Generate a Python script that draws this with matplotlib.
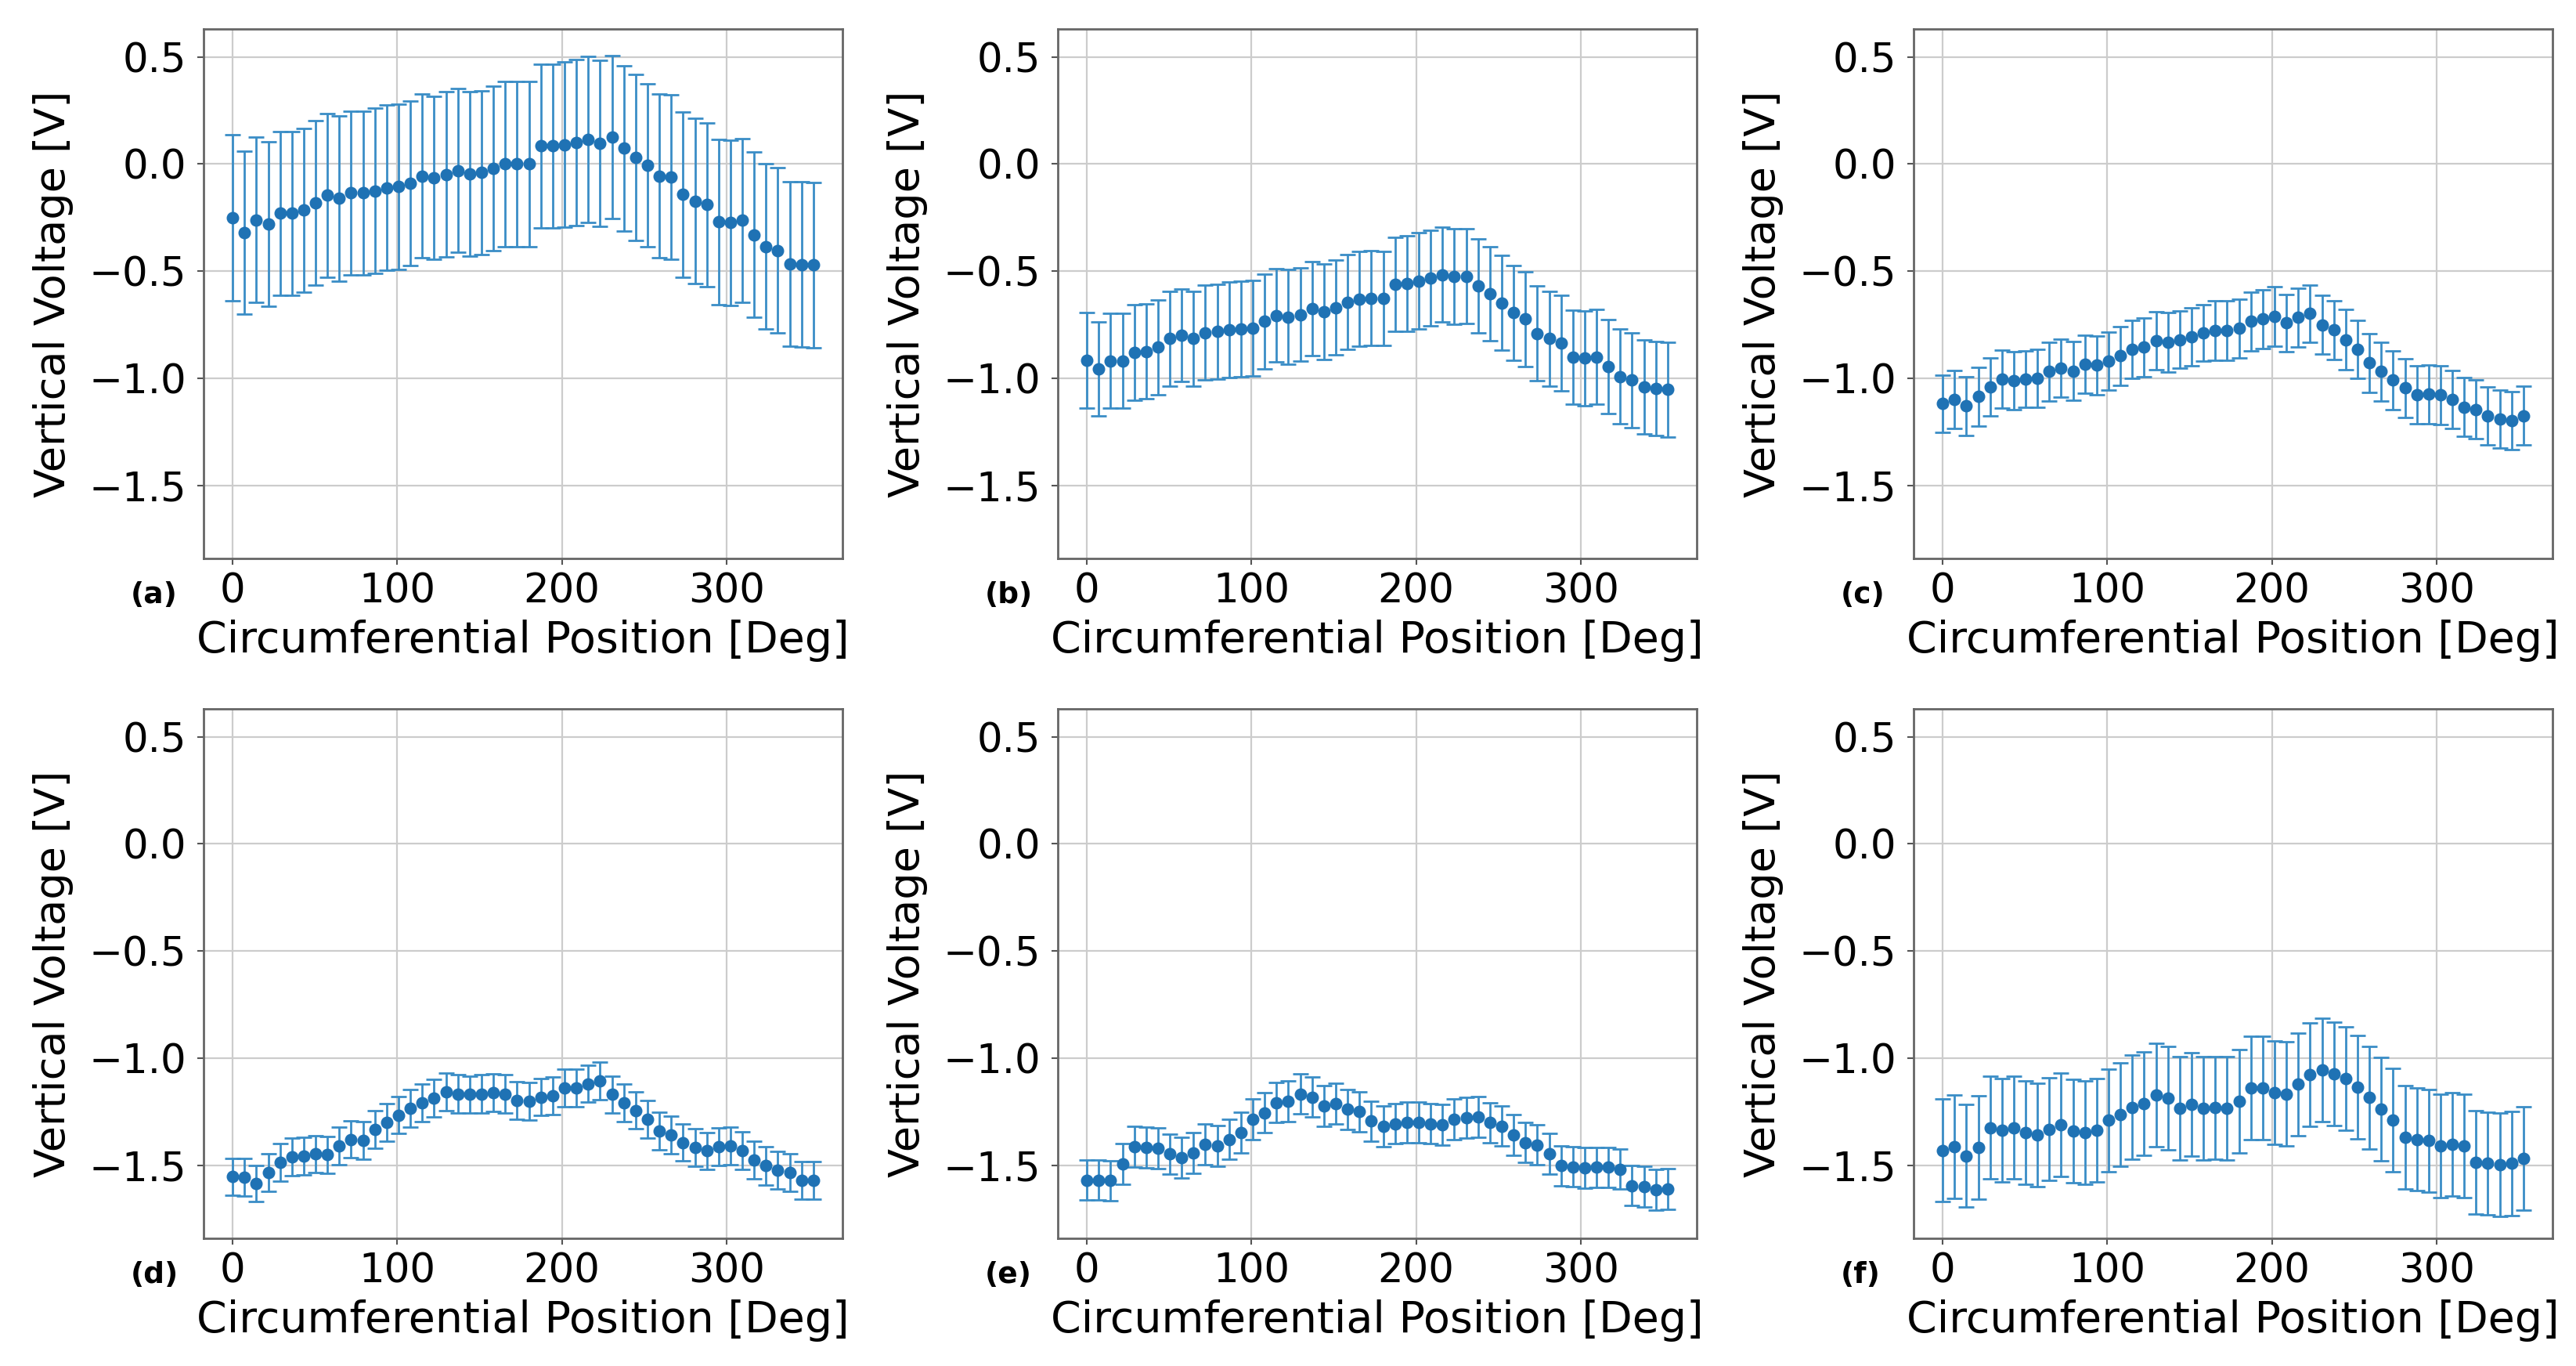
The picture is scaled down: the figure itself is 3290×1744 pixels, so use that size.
import numpy as np
import matplotlib
matplotlib.use("Agg")
import matplotlib.pyplot as plt

# ---------------- data ----------------
positions_deg = [0.0, 7.2, 14.4, 21.6, 28.8, 36.0, 43.2, 50.4, 57.6, 64.8,
                 72.0, 79.2, 86.4, 93.6, 100.8, 108.0, 115.2, 122.4, 129.6, 136.8,
                 144.0, 151.2, 158.4, 165.6, 172.8, 180.0, 187.2, 194.4, 201.6, 208.8,
                 216.0, 223.2, 230.4, 237.6, 244.8, 252.0, 259.2, 266.4, 273.6, 280.8,
                 288.0, 295.2, 302.4, 309.6, 316.8, 324.0, 331.2, 338.4, 345.6, 352.8]

mean_a = [-0.25, -0.32, -0.26, -0.28, -0.23, -0.23, -0.215, -0.18, -0.145, -0.16,
          -0.135, -0.135, -0.125, -0.11, -0.105, -0.09, -0.056, -0.065, -0.048, -0.03,
          -0.045, -0.04, -0.02, 0.0, 0.0, 0.0, 0.084, 0.084, 0.09, 0.10,
          0.116, 0.097, 0.126, 0.073, 0.032, -0.005, -0.056, -0.061, -0.142, -0.173,
          -0.19, -0.27, -0.274, -0.263, -0.33, -0.384, -0.403, -0.465, -0.468, -0.471]
err_a = [0.387, 0.381, 0.385, 0.383, 0.383, 0.381, 0.381, 0.383, 0.382, 0.385,
         0.383, 0.383, 0.385, 0.386, 0.386, 0.383, 0.381, 0.381, 0.384, 0.383,
         0.383, 0.383, 0.384, 0.385, 0.384, 0.384, 0.381, 0.383, 0.385, 0.387,
         0.387, 0.387, 0.379, 0.387, 0.387, 0.381, 0.381, 0.383, 0.385, 0.385,
         0.381, 0.385, 0.385, 0.383, 0.385, 0.385, 0.385, 0.383, 0.385, 0.385]

mean_b = [-0.916, -0.955, -0.919, -0.919, -0.879, -0.874, -0.855, -0.815, -0.798, -0.815,
          -0.787, -0.782, -0.774, -0.769, -0.766, -0.734, -0.706, -0.713, -0.702, -0.674,
          -0.689, -0.669, -0.645, -0.629, -0.626, -0.626, -0.561, -0.556, -0.545, -0.532,
          -0.516, -0.524, -0.524, -0.568, -0.605, -0.648, -0.694, -0.723, -0.79, -0.815,
          -0.835, -0.90, -0.906, -0.90, -0.944, -0.992, -1.008, -1.04, -1.048, -1.052]
err_b = [0.222, 0.220, 0.221, 0.221, 0.224, 0.222, 0.221, 0.222, 0.215, 0.221,
         0.221, 0.221, 0.222, 0.223, 0.224, 0.221, 0.218, 0.220, 0.218, 0.218,
         0.224, 0.220, 0.221, 0.220, 0.221, 0.219, 0.219, 0.223, 0.224, 0.222,
         0.222, 0.223, 0.221, 0.220, 0.218, 0.221, 0.221, 0.221, 0.221, 0.220,
         0.223, 0.220, 0.222, 0.222, 0.220, 0.221, 0.221, 0.220, 0.220, 0.220]

mean_c = [-1.118, -1.097, -1.129, -1.085, -1.04, -1.003, -1.011, -1.003, -1.0, -0.968,
          -0.952, -0.965, -0.935, -0.939, -0.919, -0.895, -0.866, -0.855, -0.823, -0.831,
          -0.819, -0.806, -0.787, -0.777, -0.777, -0.766, -0.734, -0.723, -0.71, -0.742,
          -0.715, -0.697, -0.75, -0.774, -0.819, -0.863, -0.927, -0.968, -1.008, -1.045,
          -1.077, -1.073, -1.077, -1.097, -1.134, -1.145, -1.174, -1.19, -1.198, -1.174]
err_c = [0.133, 0.135, 0.136, 0.137, 0.136, 0.135, 0.135, 0.133, 0.135, 0.137,
         0.135, 0.137, 0.135, 0.138, 0.135, 0.137, 0.135, 0.137, 0.135, 0.139,
         0.133, 0.135, 0.132, 0.138, 0.140, 0.137, 0.137, 0.138, 0.139, 0.135,
         0.137, 0.134, 0.137, 0.137, 0.140, 0.135, 0.137, 0.137, 0.137, 0.138,
         0.135, 0.137, 0.137, 0.135, 0.137, 0.137, 0.135, 0.135, 0.135, 0.137]

mean_d = [-1.553, -1.556, -1.584, -1.533, -1.486, -1.46, -1.455, -1.447, -1.45, -1.409,
          -1.378, -1.382, -1.331, -1.30, -1.265, -1.234, -1.207, -1.187, -1.156, -1.166,
          -1.169, -1.166, -1.161, -1.166, -1.197, -1.20, -1.181, -1.176, -1.138, -1.138,
          -1.119, -1.107, -1.169, -1.207, -1.243, -1.285, -1.339, -1.359, -1.393, -1.416,
          -1.432, -1.413, -1.409, -1.432, -1.475, -1.502, -1.522, -1.533, -1.569, -1.569]
err_d = [0.087, 0.088, 0.085, 0.087, 0.088, 0.087, 0.088, 0.087, 0.086, 0.088,
         0.087, 0.088, 0.087, 0.088, 0.087, 0.088, 0.087, 0.088, 0.087, 0.088,
         0.087, 0.088, 0.087, 0.088, 0.087, 0.088, 0.087, 0.088, 0.087, 0.088,
         0.087, 0.088, 0.087, 0.088, 0.087, 0.088, 0.087, 0.088, 0.087, 0.088,
         0.087, 0.088, 0.087, 0.088, 0.087, 0.088, 0.087, 0.088, 0.087, 0.088]

mean_e = [-1.568, -1.568, -1.571, -1.494, -1.413, -1.416, -1.42, -1.447, -1.463, -1.44,
          -1.401, -1.409, -1.378, -1.347, -1.285, -1.254, -1.207, -1.20, -1.166, -1.181,
          -1.223, -1.212, -1.238, -1.249, -1.293, -1.316, -1.305, -1.30, -1.30, -1.305,
          -1.311, -1.285, -1.277, -1.274, -1.30, -1.316, -1.358, -1.393, -1.404, -1.444,
          -1.502, -1.506, -1.512, -1.509, -1.509, -1.517, -1.594, -1.599, -1.614, -1.61]
err_e = [0.094, 0.094, 0.093, 0.095, 0.094, 0.094, 0.095, 0.094, 0.094, 0.095,
         0.094, 0.094, 0.093, 0.094, 0.095, 0.094, 0.094, 0.095, 0.094, 0.094,
         0.095, 0.094, 0.094, 0.093, 0.094, 0.095, 0.094, 0.094, 0.095, 0.094,
         0.094, 0.095, 0.094, 0.094, 0.093, 0.094, 0.095, 0.094, 0.094, 0.095,
         0.094, 0.094, 0.095, 0.094, 0.094, 0.093, 0.094, 0.095, 0.094, 0.094]

mean_f = [-1.429, -1.413, -1.455, -1.416, -1.323, -1.336, -1.323, -1.347, -1.358, -1.331,
          -1.311, -1.339, -1.347, -1.336, -1.289, -1.262, -1.228, -1.212, -1.172, -1.187,
          -1.234, -1.215, -1.234, -1.231, -1.234, -1.20, -1.138, -1.138, -1.161, -1.166,
          -1.122, -1.076, -1.053, -1.073, -1.094, -1.135, -1.184, -1.238, -1.289, -1.367,
          -1.378, -1.385, -1.409, -1.401, -1.409, -1.486, -1.491, -1.497, -1.491, -1.466]
err_f = [0.241, 0.241, 0.238, 0.240, 0.238, 0.241, 0.240, 0.242, 0.241, 0.240,
         0.241, 0.242, 0.240, 0.241, 0.240, 0.241, 0.242, 0.241, 0.240, 0.241,
         0.242, 0.241, 0.241, 0.240, 0.241, 0.242, 0.241, 0.240, 0.241, 0.242,
         0.241, 0.240, 0.241, 0.242, 0.241, 0.240, 0.241, 0.241, 0.242, 0.241,
         0.240, 0.241, 0.242, 0.241, 0.240, 0.242, 0.241, 0.241, 0.242, 0.241]

panel_labels = ["(a)", "(b)", "(c)", "(d)", "(e)", "(f)"]
panel_means = [mean_a, mean_b, mean_c, mean_d, mean_e, mean_f]
panel_errs = [err_a, err_b, err_c, err_d, err_e, err_f]

x_ticks = [0, 100, 200, 300]
y_ticks = [-1.5, -1.0, -0.5, 0.0, 0.5]
x_label = "Circumferential Position [Deg]"
y_label = "Vertical Voltage [V]"

# ---------------- figure ----------------
W, H = 3290, 1744
plt.rcParams['font.family'] = ['DejaVu Sans']
fig = plt.figure(figsize=(W / 100, H / 100), dpi=100)

col_left = [260, 1351, 2444]
row_top = [37, 905]
ax_w, ax_h = 816, 676

marker_color = '#1f72b4'
err_color = '#3a8dc6'

for i in range(6):
    r, c = divmod(i, 3)
    left = col_left[c] / W
    bottom = 1 - (row_top[r] + ax_h) / H
    ax = fig.add_axes([left, bottom, ax_w / W, ax_h / H])
    ax.errorbar(positions_deg, panel_means[i], yerr=panel_errs[i], fmt='o',
                color=marker_color, ecolor=err_color, elinewidth=2.0,
                capsize=7, capthick=2.0, markersize=10.5, zorder=3)
    ax.set_ylim(-1.84, 0.63)
    ax.set_xticks(x_ticks)
    ax.set_yticks(y_ticks)
    ax.grid(True, color='#cccccc', linewidth=1.6)
    ax.set_axisbelow(True)
    ax.tick_params(labelsize=37, length=6, width=1.5, color='#555555')
    ax.tick_params(axis='x', pad=6.5)
    ax.tick_params(axis='y', pad=10)
    ax.set_xlabel(x_label, fontsize=40, labelpad=8)
    ax.set_ylabel(y_label, fontsize=39, labelpad=14)
    for s in ax.spines.values():
        s.set_linewidth(2.0)
        s.set_color('#666666')
    lx = (col_left[c] - 93) / W
    ly = 1 - (row_top[r] + ax_h + 47) / H
    fig.text(lx, ly, panel_labels[i], fontsize=27, fontweight='bold',
             ha='left', va='center')

fig.savefig("out.png", dpi=100)
